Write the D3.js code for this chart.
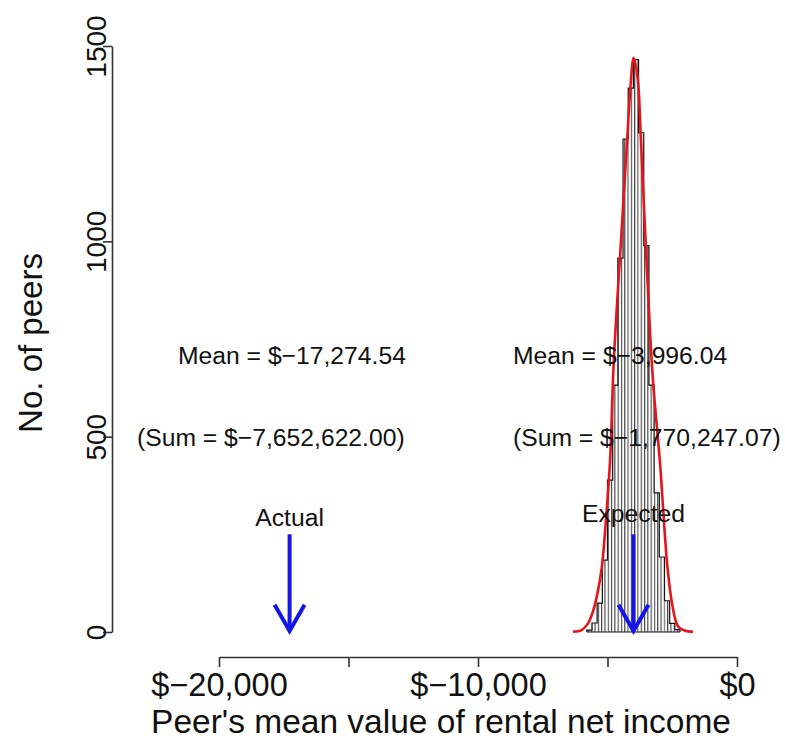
<!DOCTYPE html>
<html><head><meta charset="utf-8">
<script src="https://cdn.jsdelivr.net/npm/d3@7"></script>
<style>
body{margin:0;background:#fff}
svg{display:block}
text{font-family:"Liberation Sans", Arial, Helvetica, sans-serif; fill:#111}
</style>
</head><body><svg id="c" width="785" height="748"></svg>
<script>
// ---- data ----
const binLower = [-5800,-5600,-5400,-5200,-5000,-4800,-4600,-4400,-4200,-4000,-3800,-3600,-3400,-3200,-3000,-2800,-2600,-2400];
const binWidth = 200;
const binCounts = [5,23,74,184,389,632,957,1262,1392,1465,1278,989,632,356,192,80,22,6];
const curveValue = [-6330,-6000,-5750,-5550,-5400,-5220,-5080,-4900,-4760,-4480,-4240,-4120,-3990,-3880,-3800,-3710,-3530,-3360,-3240,-2970,-2700,-2510,-2280,-2000,-1700];
const curveCount = [1,5,22,55,95,165,270,440,690,1000,1260,1390,1470,1440,1390,1260,1000,770,640,430,177,74,15,3,1];
const xTicks = [-20000,-15000,-10000,-5000,0];
const xTickLabels = ["$\u221220,000","","$\u221210,000","","$0"];
const yTicks = [0,500,1000,1500];
const markerNames = ["Actual","Expected"];
const markerValues = [-17274.54,-3996.04];
const meanLabels = ["Mean = $\u221217,274.54","Mean = $\u22123,996.04"];
const sumLabels = ["(Sum = $\u22127,652,622.00)","(Sum = $\u22121,770,247.07)"];
const xTitle = "Peer's mean value of rental net income";
const yTitle = "No. of peers";

// ---- scales ----
const svg = d3.select("#c");
const x = d3.scaleLinear().domain([-20000,0]).range([219,737]);
const y = d3.scaleLinear().domain([0,1500]).range([632,46]);

// hatch pattern
const defs = svg.append("defs");
const pat = defs.append("pattern").attr("id","hatch").attr("patternUnits","userSpaceOnUse")
  .attr("width",3.3).attr("height",10).attr("x",0.5);
pat.append("rect").attr("width",3.3).attr("height",10).attr("fill","#fff");
pat.append("line").attr("x1",0.6).attr("x2",0.6).attr("y1",0).attr("y2",10)
  .attr("stroke","#2a2a2a").attr("stroke-width",1);

// bars (hatched)
svg.append("g").selectAll("rect").data(binLower).join("rect")
  .attr("x",d=>x(d)).attr("width",d=>x(d+binWidth)-x(d))
  .attr("y",(d,i)=>y(binCounts[i])).attr("height",(d,i)=>y(0)-y(binCounts[i]))
  .attr("fill","url(#hatch)");

// histogram outline (steps)
const stepPts = [[binLower[0],0]];
binLower.forEach((d,i)=>{ stepPts.push([d,binCounts[i]]); stepPts.push([d+binWidth,binCounts[i]]); });
stepPts.push([binLower[binLower.length-1]+binWidth,0]);
svg.append("path").datum(stepPts)
  .attr("d",d3.line().x(d=>x(d[0])).y(d=>y(d[1])))
  .attr("fill","none").attr("stroke","#111").attr("stroke-width",1.2);
svg.append("line").attr("x1",x(binLower[0])).attr("x2",x(binLower[binLower.length-1]+binWidth))
  .attr("y1",y(0)).attr("y2",y(0)).attr("stroke","#111").attr("stroke-width",1.2);

// density curve
const line = d3.line().x(d=>x(d[0])).y(d=>y(d[1])).curve(d3.curveCatmullRom);
svg.append("path").datum(curveValue.map((v,i)=>[v,curveCount[i]]))
  .attr("d",line).attr("fill","none").attr("stroke","#e8141b").attr("stroke-width",2.6);

// axes
const xa = svg.append("g").attr("transform","translate(0,657)")
  .call(d3.axisBottom(x).tickValues(xTicks).tickSize(10).tickSizeOuter(0).tickPadding(6)
    .tickFormat((d,i)=>xTickLabels[i]));
xa.selectAll("text").attr("font-size",32.5).attr("dy","0.7em").style("font-family","Liberation Sans, Arial, sans-serif").attr("fill","#111");
xa.select(".domain").attr("stroke","#333").attr("stroke-width",1.6);
xa.selectAll(".tick line").attr("stroke","#333").attr("stroke-width",1.6);

const ya = svg.append("g").attr("transform","translate(112,0)")
  .call(d3.axisLeft(y).tickValues(yTicks).tickSize(9).tickSizeOuter(0).tickFormat(d3.format("d")));
ya.selectAll("text").attr("x",null).attr("dy",null).attr("y",-6)
  .attr("transform","rotate(-90)").attr("text-anchor","middle")
  .attr("font-size",28).style("font-family","Liberation Sans, Arial, sans-serif").attr("fill","#111");
ya.select(".domain").attr("stroke","#333").attr("stroke-width",1.6);
ya.selectAll(".tick line").attr("stroke","#333").attr("stroke-width",1.6);

// titles
svg.append("text").attr("x",441).attr("y",733).attr("text-anchor","middle")
  .attr("font-size",33.5).text(xTitle);
svg.append("text").attr("transform","translate(42,343) rotate(-90)").attr("text-anchor","middle")
  .attr("font-size",33).text(yTitle);

// annotations
const meanX = [178,513], sumX = [137,513];
svg.append("g").selectAll("text.mean").data(meanLabels).join("text")
  .attr("x",(d,i)=>meanX[i]).attr("y",364).attr("font-size",24.7).text(d=>d);
svg.append("g").selectAll("text.sum").data(sumLabels).join("text")
  .attr("x",(d,i)=>sumX[i]).attr("y",446).attr("font-size",24.7).text(d=>d);

// arrows
const arr = svg.append("g");
markerValues.forEach((v,i)=>{
  const cx = x(v);
  arr.append("line").attr("x1",cx).attr("x2",cx).attr("y1",y(250)).attr("y2",y(0)-2)
    .attr("stroke","#1515e8").attr("stroke-width",4);
  arr.append("path").attr("d",`M${cx-15},${y(70)}L${cx},${y(0)-1}L${cx+15},${y(70)}`)
    .attr("fill","none").attr("stroke","#1515e8").attr("stroke-width",4).attr("stroke-linejoin","miter");
  svg.append("text").attr("x",cx).attr("y",[526,522][i]).attr("text-anchor","middle")
    .attr("font-size",24.7).text(markerNames[i]);
});
</script></body></html>
